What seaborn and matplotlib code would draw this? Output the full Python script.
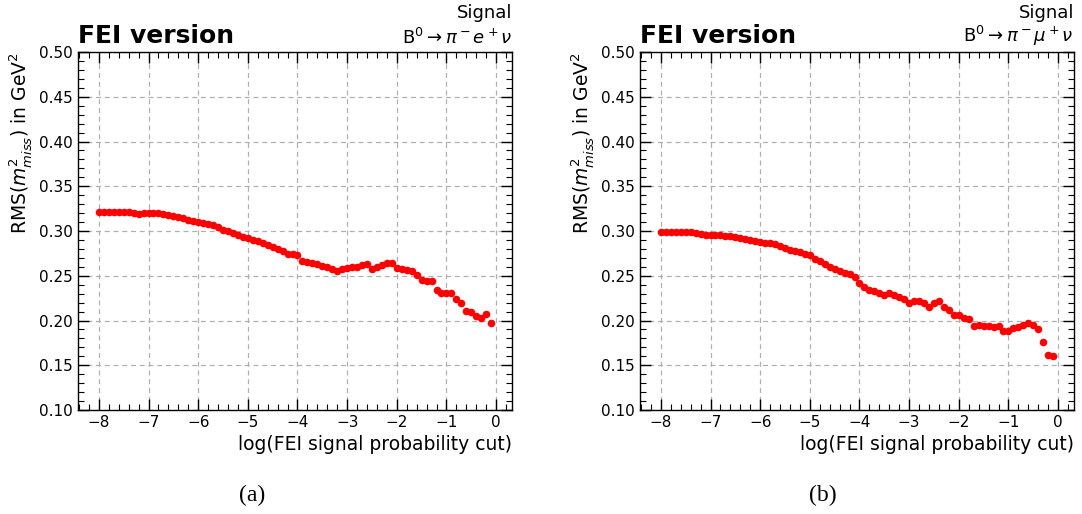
import matplotlib
matplotlib.use("Agg")
import matplotlib.pyplot as plt
import pandas as pd
import seaborn as sns
from matplotlib.ticker import MultipleLocator, FormatStrFormatter

sns.set_style("ticks")
plt.rcParams["font.family"] = ["DejaVu Sans"]
plt.rcParams["mathtext.fontset"] = "dejavusans"
plt.rcParams["text.color"] = "black"
plt.rcParams["axes.labelcolor"] = "black"

# log10 of the FEI signal-probability cut
log_cut = [
    -8.0, -7.9, -7.8, -7.7, -7.6, -7.5, -7.4, -7.3, -7.2, -7.1,
    -7.0, -6.9, -6.8, -6.7, -6.6, -6.5, -6.4, -6.3, -6.2, -6.1,
    -6.0, -5.9, -5.8, -5.7, -5.6, -5.5, -5.4, -5.3, -5.2, -5.1,
    -5.0, -4.9, -4.8, -4.7, -4.6, -4.5, -4.4, -4.3, -4.2, -4.1,
    -4.0, -3.9, -3.8, -3.7, -3.6, -3.5, -3.4, -3.3, -3.2, -3.1,
    -3.0, -2.9, -2.8, -2.7, -2.6, -2.5, -2.4, -2.3, -2.2, -2.1,
    -2.0, -1.9, -1.8, -1.7, -1.6, -1.5, -1.4, -1.3, -1.2, -1.1,
    -1.0, -0.9, -0.8, -0.7, -0.6, -0.5, -0.4, -0.3, -0.2, -0.1,
]

# RMS of m^2_miss (GeV^2), B0 -> pi- e+ nu
rms_electron = [
    0.3215, 0.3215, 0.3215, 0.3213, 0.3212, 0.3210, 0.3208, 0.3205, 0.3195, 0.3198,
    0.3200, 0.3200, 0.3198, 0.3190, 0.3180, 0.3170, 0.3158, 0.3140, 0.3120, 0.3108,
    0.3100, 0.3090, 0.3075, 0.3062, 0.3040, 0.3015, 0.3000, 0.2980, 0.2955, 0.2935,
    0.2920, 0.2905, 0.2888, 0.2865, 0.2843, 0.2820, 0.2795, 0.2775, 0.2745, 0.2740,
    0.2730, 0.2670, 0.2655, 0.2640, 0.2630, 0.2612, 0.2597, 0.2580, 0.2555, 0.2580,
    0.2592, 0.2600, 0.2600, 0.2620, 0.2630, 0.2575, 0.2595, 0.2615, 0.2638, 0.2648,
    0.2592, 0.2580, 0.2560, 0.2550, 0.2512, 0.2452, 0.2437, 0.2444, 0.2340, 0.2305,
    0.2313, 0.2313, 0.2235, 0.2200, 0.2110, 0.2096, 0.2056, 0.2030, 0.2078, 0.1970,
]

# RMS of m^2_miss (GeV^2), B0 -> pi- mu+ nu
rms_muon = [
    0.2990, 0.2990, 0.2990, 0.2990, 0.2988, 0.2988, 0.2985, 0.2975, 0.2965, 0.2960,
    0.2958, 0.2955, 0.2950, 0.2945, 0.2940, 0.2932, 0.2920, 0.2908, 0.2898, 0.2890,
    0.2875, 0.2868, 0.2870, 0.2850, 0.2835, 0.2810, 0.2790, 0.2778, 0.2760, 0.2745,
    0.2728, 0.2690, 0.2665, 0.2630, 0.2600, 0.2575, 0.2555, 0.2530, 0.2515, 0.2490,
    0.2420, 0.2370, 0.2345, 0.2325, 0.2305, 0.2290, 0.2312, 0.2280, 0.2265, 0.2245,
    0.2195, 0.2218, 0.2215, 0.2200, 0.2150, 0.2198, 0.2213, 0.2150, 0.2112, 0.2064,
    0.2060, 0.2030, 0.2022, 0.1944, 0.1955, 0.1944, 0.1935, 0.1925, 0.1944, 0.1881,
    0.1888, 0.1918, 0.1925, 0.1950, 0.1975, 0.1950, 0.1900, 0.1765, 0.1617, 0.1600,
]

channel_labels = [r"B$^0\rightarrow\pi^-e^+\nu$", r"B$^0\rightarrow\pi^-\mu^+\nu$"]
panel_tags = ["(a)", "(b)"]

fig = plt.figure(figsize=(10.82, 5.14), dpi=100)
axes_rects = [[0.0721, 0.2023, 0.4011, 0.6965], [0.5915, 0.2023, 0.4011, 0.6965]]
tag_x = [0.233, 0.760]

for rect, values, channel, tag, tx in zip(axes_rects, [rms_electron, rms_muon],
                                         channel_labels, panel_tags, tag_x):
    ax = fig.add_axes(rect)
    df = pd.DataFrame({"cut": log_cut, "rms": values})
    sns.scatterplot(data=df, x="cut", y="rms", ax=ax, color="red", s=30,
                    linewidth=0, zorder=3, legend=False)

    ax.set_xlim(-8.42, 0.32)
    ax.set_ylim(0.10, 0.50)
    ax.xaxis.set_major_locator(MultipleLocator(1))
    ax.xaxis.set_minor_locator(MultipleLocator(0.2))
    ax.yaxis.set_major_locator(MultipleLocator(0.05))
    ax.yaxis.set_minor_locator(MultipleLocator(0.01))
    ax.yaxis.set_major_formatter(FormatStrFormatter("%.2f"))
    ax.tick_params(which="both", direction="in", top=True, right=True,
                   labelsize=11, colors="black")
    ax.tick_params(which="major", length=8, width=1)
    ax.tick_params(which="minor", length=4, width=0.8)
    for side in ax.spines.values():
        side.set_color("black")
        side.set_linewidth(1)
    ax.grid(True, which="major", linestyle=(0, (4, 3)), color="#b0b0b0", linewidth=0.9)

    ax.set_xlabel("log(FEI signal probability cut)", fontsize=13.5, loc="right")
    ax.set_ylabel(r"RMS($m^2_{miss}$) in GeV$^2$", fontsize=13.5, loc="top")

    ax.text(0.0, 1.012, "FEI version", transform=ax.transAxes, fontsize=18,
            fontweight="bold", ha="left", va="bottom")
    ax.text(1.0, 1.084, "Signal", transform=ax.transAxes, fontsize=13,
            ha="right", va="bottom")
    ax.text(1.0, 1.012, channel, transform=ax.transAxes, fontsize=13,
            ha="right", va="bottom")

    fig.text(tx, 0.037, tag, family="Liberation Serif", fontsize=17,
             ha="center", va="center")

fig.savefig("out.png", dpi=100)
